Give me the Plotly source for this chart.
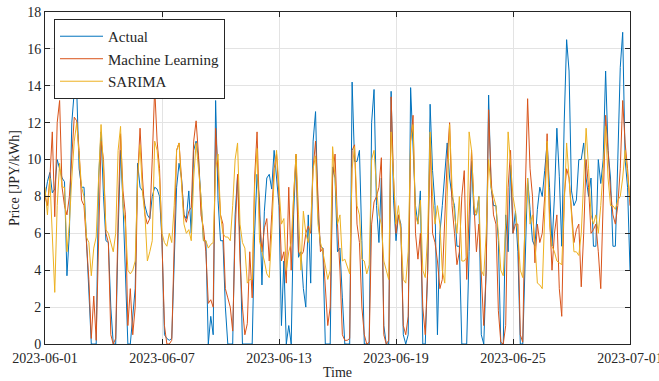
import pandas as pd
import plotly.graph_objects as go

# 3-hourly samples, 2023-06-01 00:00 .. 2023-07-01 00:00
start = "2023-06-01 00:00"
step = "3h"

actual = [
    8.0, 8.8, 9.3, 8.2, 8.4, 10.0, 9.5, 9.0,
    8.8, 3.7, 6.0, 12.0, 13.7, 13.8, 9.5, 8.5,
    8.5, 5.6, 3.0, 0.0, 0.0, 0.0, 9.0, 11.5,
    8.0, 5.6, 5.5, 2.0, 0.0, 0.0, 6.0, 10.5,
    7.6, 4.0, 0.0, 0.0, 1.5, 3.0, 9.8, 8.5,
    8.3, 7.5, 7.0, 6.8, 8.0, 8.5, 8.4, 8.0,
    5.6, 0.5, 0.3, 0.2, 0.3, 4.0, 8.5, 9.8,
    9.0, 7.0, 6.8, 8.3, 6.0, 10.5, 11.0, 10.0,
    8.0, 5.6, 5.6, 0.0, 1.5, 0.5, 13.2, 7.8,
    5.6, 5.6, 2.0, 0.0, 0.0, 0.0, 7.0, 9.1,
    5.6, 0.0, 0.0, 0.0, 0.0, 0.0, 6.0, 9.2,
    7.8, 3.2, 7.2, 9.0, 9.2, 8.4, 10.5, 9.0,
    7.5, 1.0, 4.5, 0.0, 1.0, 0.0, 7.0, 10.2,
    4.7, 5.0, 3.0, 2.0, 7.0, 3.3, 11.0, 12.6,
    7.0, 5.3, 5.2, 0.0, 0.0, 0.0, 9.6, 9.0,
    5.0, 5.2, 2.5, 0.0, 0.0, 0.0, 14.2, 9.9,
    9.9, 10.5, 5.6, 0.0, 0.0, 0.0, 12.0, 13.8,
    7.5, 5.5, 9.0, 1.0, 0.0, 0.0, 13.7, 7.8,
    5.6, 7.0, 6.5, 0.5, 0.0, 0.5, 13.9, 11.0,
    7.5, 6.5, 8.3, 0.0, 0.0, 4.0, 13.0, 9.4,
    7.5, 0.5, 6.0, 7.5, 9.0, 10.9, 9.0, 8.0,
    7.5, 5.3, 5.3, 0.0, 0.0, 0.0, 5.0, 9.9,
    7.0, 7.0, 8.0, 0.5, 0.0, 4.0, 13.5, 8.5,
    7.5, 7.5, 5.6, 0.0, 0.0, 7.0, 5.0, 9.7,
    6.0, 7.2, 5.0, 0.0, 0.0, 5.0, 9.0, 7.3,
    5.6, 5.3, 7.3, 8.5, 8.0, 9.4, 10.9, 8.5,
    5.3, 8.0, 11.7, 9.1, 5.3, 12.0, 16.5, 14.8,
    8.3, 7.5, 7.8, 10.0, 10.0, 10.9, 9.0, 8.0,
    9.0, 5.3, 5.3, 10.0, 8.7, 10.0, 14.8, 10.5,
    9.0, 5.3, 5.3, 10.0, 15.0, 16.9, 10.0, 8.5,
    4.0,
]

machine_learning = [
    8.0, 7.5, 9.0, 11.5, 6.9, 12.0, 13.2, 8.5,
    7.5, 7.0, 8.0, 10.5, 12.3, 12.1, 10.5, 7.8,
    7.5, 5.5, 3.5, 0.3, 2.6, 0.2, 5.0, 11.0,
    10.0, 6.0, 5.5, 0.5, 0.0, 0.3, 7.0, 11.4,
    8.3, 7.0, 1.0, 3.0, 0.5, 2.0, 9.0, 11.7,
    9.0, 7.0, 6.5, 6.8, 10.0, 13.9, 11.0, 9.5,
    5.5, 1.0, 0.0, 0.0, 0.2, 5.0, 10.5, 10.9,
    9.2, 7.0, 6.6, 7.2, 7.4, 11.0, 12.1, 10.2,
    7.0, 6.3, 5.0, 2.2, 2.4, 2.0, 11.7, 9.5,
    7.0, 6.5, 3.0, 2.5, 2.0, 0.7, 6.0, 9.2,
    4.5, 2.0, 0.5, 1.1, 5.0, 2.5, 9.0, 11.5,
    7.0, 5.0, 6.3, 6.8, 4.5, 7.0, 9.5, 10.3,
    8.0, 4.5, 5.0, 3.3, 8.5, 4.0, 8.0, 10.3,
    5.0, 4.8, 5.0, 6.0, 6.4, 6.0, 9.5, 11.0,
    7.5, 5.0, 5.2, 3.0, 1.0, 2.0, 9.0, 10.3,
    6.5, 4.0, 0.5, 0.2, 0.2, 0.3, 10.5, 10.8,
    6.5, 5.5, 2.0, 0.5, 0.0, 0.1, 6.5, 7.7,
    8.0, 8.5, 10.1, 0.5, 0.0, 0.2, 13.4, 9.0,
    6.0, 7.0, 6.3, 1.0, 0.5, 1.5, 11.0, 12.4,
    6.0, 4.6, 6.0, 2.0, 0.5, 4.0, 11.2, 6.0,
    5.5, 4.5, 3.0, 3.5, 7.0, 10.0, 12.0, 7.5,
    6.0, 4.3, 5.0, 8.0, 9.4, 3.5, 7.0, 10.5,
    7.5, 5.0, 6.5, 3.5, 1.0, 4.0, 12.7, 9.0,
    7.0, 6.5, 1.8, 0.1, 0.0, 1.0, 8.5, 10.5,
    6.0, 6.5, 6.5, 0.5, 0.1, 8.0, 13.3, 9.5,
    8.0, 4.4, 6.5, 5.5, 6.0, 8.0, 11.4, 7.0,
    4.0, 6.0, 7.0, 3.0, 1.5, 8.0, 9.5, 9.0,
    7.0, 5.5, 6.2, 6.5, 3.1, 6.0, 10.0, 8.5,
    6.0, 6.2, 6.5, 5.0, 3.0, 8.0, 12.4, 10.5,
    8.3, 7.0, 6.5, 7.5, 9.5, 13.2, 10.9, 9.5,
    7.5,
]

sarima = [
    8.5, 7.0, 9.0, 6.0, 2.8, 7.5, 9.8, 8.5,
    8.5, 5.0, 6.5, 9.0, 11.0, 12.0, 10.0, 8.5,
    8.0, 5.8, 5.5, 3.7, 5.2, 5.8, 9.0, 11.9,
    9.5, 6.2, 6.0, 5.5, 5.0, 6.0, 10.5, 11.8,
    7.5, 6.5, 4.0, 3.8, 4.0, 4.5, 9.0, 10.8,
    8.2, 7.0, 4.5, 5.0, 5.6, 11.0, 10.5, 9.0,
    6.0, 5.5, 5.3, 6.0, 5.5, 7.5, 10.5, 10.9,
    8.5, 6.5, 6.0, 6.2, 5.6, 9.0, 10.9, 9.5,
    8.0, 5.6, 5.6, 5.2, 5.4, 5.5, 9.5, 10.3,
    7.0, 6.0, 5.8, 5.8, 5.6, 7.5, 10.0, 10.9,
    6.5, 5.5, 5.2, 3.3, 3.5, 3.5, 8.5, 10.6,
    5.6, 5.0, 4.5, 3.8, 3.6, 6.0, 9.0, 10.5,
    8.5, 6.5, 6.8, 4.0, 5.0, 5.5, 8.0, 10.3,
    7.0, 4.0, 7.2, 6.0, 5.5, 6.5, 9.5, 10.2,
    6.5, 5.5, 5.0, 4.3, 3.5, 4.0, 10.7, 9.0,
    6.5, 7.0, 4.5, 4.6, 4.2, 3.8, 9.5, 10.7,
    7.5, 7.0, 4.6, 4.5, 3.8, 4.3, 10.0, 10.5,
    8.5, 7.0, 6.5, 4.5, 4.0, 3.5, 11.5, 9.0,
    6.5, 7.5, 6.0, 3.5, 3.3, 5.0, 11.0, 11.9,
    7.0, 6.5, 7.8, 4.0, 3.6, 6.0, 11.5, 8.0,
    6.5, 7.5, 6.5, 4.0, 3.3, 8.0, 11.9, 8.5,
    7.0, 6.0, 8.0, 4.5, 4.5, 4.7, 11.5, 10.5,
    7.5, 7.0, 8.0, 4.0, 3.7, 6.0, 10.0, 8.5,
    8.0, 7.5, 6.0, 4.0, 3.7, 6.5, 11.5, 9.5,
    8.0, 7.2, 6.0, 4.0, 3.6, 6.5, 9.0, 6.5,
    7.0, 5.5, 3.3, 3.2, 3.0, 7.0, 11.0, 6.5,
    5.3, 5.0, 4.5, 4.4, 4.3, 7.5, 10.9, 9.0,
    7.0, 5.0, 5.0, 4.8, 6.0, 9.0, 11.7, 9.5,
    7.0, 6.5, 7.0, 6.0, 7.5, 9.5, 11.8, 9.0,
    7.5, 7.5, 7.3, 7.8, 8.0, 9.0, 10.5, 9.2,
    7.8,
]

series_names = ["Actual", "Machine Learning", "SARIMA"]
tick_dates = ["2023-06-01", "2023-06-07", "2023-06-13", "2023-06-19", "2023-06-25", "2023-07-01"]

t = pd.date_range(start, periods=len(actual), freq=step)

colors = ["#0072BD", "#D95319", "#EDB120"]
fig = go.Figure()
for name, vals, c in zip(series_names, [actual, machine_learning, sarima], colors):
    fig.add_trace(go.Scatter(x=t, y=vals, mode="lines", name=name,
                             line=dict(color=c, width=1)))

font_family = "Liberation Serif, DejaVu Serif, serif"
axis_common = dict(
    showline=True, linecolor="#262626", linewidth=1, mirror="ticks",
    ticks="inside", ticklen=5, tickcolor="#262626",
    showgrid=True, gridcolor="#e3e3e3", gridwidth=1, zeroline=False,
    automargin=False, ticklabeloverflow="allow",
    tickfont=dict(family=font_family, size=14, color="#262626"),
)

fig.update_layout(
    width=659, height=381,
    margin=dict(l=45, r=29, t=12, b=37),
    plot_bgcolor="white", paper_bgcolor="white",
    font=dict(family=font_family, size=14, color="#262626"),
    xaxis=dict(range=["2023-06-01 00:00:00", "2023-07-01 00:00:01"],
               tickvals=tick_dates, ticktext=tick_dates,
               ticklabelstandoff=1,
               title=dict(text="Time", font=dict(family=font_family, size=14, color="#262626"), standoff=2),
               **axis_common),
    yaxis=dict(range=[0, 18.0001], dtick=2, tick0=0,
               title=dict(text="Price [JPY/kWh]", font=dict(family=font_family, size=14, color="#262626"), standoff=4),
               **axis_common),
    legend=dict(x=0.0154, y=0.979, xanchor="left", yanchor="top",
                bgcolor="white", bordercolor="#262626", borderwidth=1,
                font=dict(family=font_family, size=15, color="#262626"),
                itemwidth=43, tracegroupgap=0),
    showlegend=True,
)

# remove the page's default body margin so the figure sits at the window's corner
fig.write_html("out.html", config={"displayModeBar": False},
               post_script="document.body.style.margin='0px';")
